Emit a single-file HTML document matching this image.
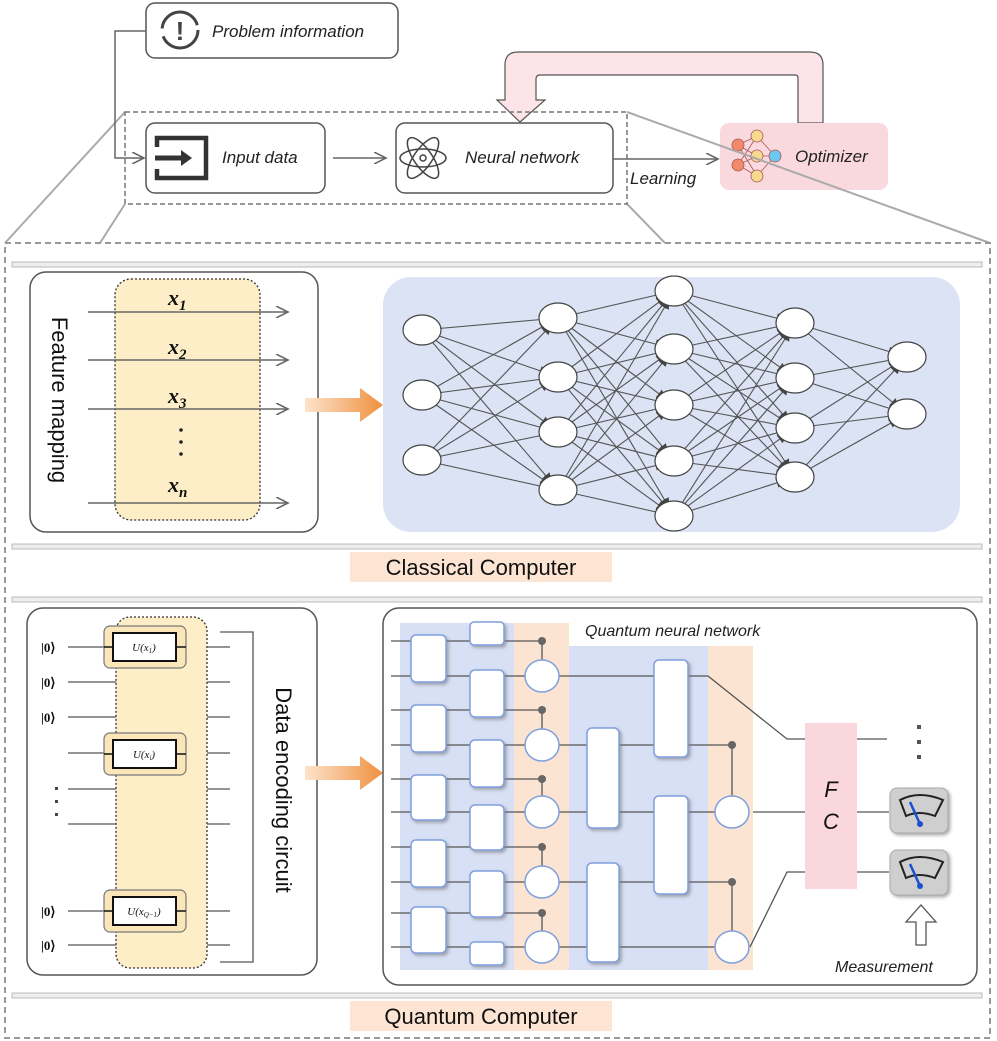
<!DOCTYPE html>
<html><head><meta charset="utf-8"><style>
body{margin:0;background:#fff}
svg{display:block;font-family:"Liberation Sans",sans-serif}
.it{font-style:italic}
</style></head><body>
<svg width="997" height="1041" viewBox="0 0 997 1041" xmlns="http://www.w3.org/2000/svg">
<defs>
<marker id="ah" markerUnits="userSpaceOnUse" markerWidth="14" markerHeight="12" refX="12" refY="6" orient="auto"><path d="M0,0 L12,6 L0,12" fill="none" stroke="#666" stroke-width="1.6"/></marker>
<marker id="nh" markerUnits="userSpaceOnUse" markerWidth="30" markerHeight="10" refX="29" refY="5" orient="auto"><path d="M10,0 L20,5 L10,10 Z" fill="#444"/></marker>
<linearGradient id="og" x1="0" x2="1"><stop offset="0" stop-color="#fde3cc"/><stop offset="1" stop-color="#f0903e"/></linearGradient>
<filter id="sh" x="-20%" y="-20%" width="150%" height="150%"><feDropShadow dx="2" dy="2" stdDeviation="1.5" flood-color="#777" flood-opacity="0.6"/></filter>
</defs>

<g stroke="#aaa" stroke-width="2" fill="none">
<line x1="125" y1="112" x2="5" y2="243"/>
<line x1="125" y1="204" x2="100" y2="243"/>
<line x1="627" y1="204" x2="665" y2="243"/>
</g>

<path d="M798,123 L798,78 Q798,75 795,75 L540,75 Q536,75 536,79 L536,100 L545,100 L520,122 L497,100 L505,100 L505,65 Q505,52 518,52 L810,52 Q823,52 823,65 L823,123 Z" fill="#fde4e8" stroke="#555" stroke-width="1.2"/>

<rect x="146" y="3" width="252" height="55" rx="9" fill="#fff" stroke="#555" stroke-width="1.5"/>
<circle cx="180" cy="30" r="18" fill="none" stroke="#444" stroke-width="3" stroke-dasharray="50 8"/>
<text x="180" y="40" font-size="26" font-weight="bold" text-anchor="middle" fill="#444">!</text>
<text x="212" y="37" font-size="17" class="it" fill="#222">Problem information</text>
<polyline points="146,31 115,31 115,158 144,158" fill="none" stroke="#666" stroke-width="1.5" marker-end="url(#ah)"/>

<rect x="125" y="112" width="502" height="92" fill="none" stroke="#777" stroke-width="1.5" stroke-dasharray="5 3"/>
<rect x="146" y="123" width="179" height="70" rx="9" fill="#fff" stroke="#555" stroke-width="1.5"/>
<path d="M157,147 L157,138 L206,138 L206,178 L157,178 L157,169" fill="none" stroke="#333" stroke-width="4.5"/>
<line x1="155" y1="158" x2="187" y2="158" stroke="#333" stroke-width="5"/>
<path d="M181,150 L192,158 L181,166 Z" fill="#333"/>
<text x="222" y="163" font-size="17" class="it" fill="#222">Input data</text>
<line x1="333" y1="158" x2="386" y2="158" stroke="#666" stroke-width="1.5" marker-end="url(#ah)"/>
<rect x="396" y="123" width="217" height="70" rx="9" fill="#fff" stroke="#555" stroke-width="1.5"/>
<g fill="none" stroke="#444" stroke-width="1.5">
<ellipse cx="423" cy="158" rx="9" ry="24" transform="rotate(-35 423 158)"/>
<ellipse cx="423" cy="158" rx="9" ry="24" transform="rotate(35 423 158)"/>
<ellipse cx="423" cy="158" rx="23" ry="9"/>
<circle cx="423" cy="158" r="3"/>
</g>
<text x="465" y="163" font-size="17" class="it" fill="#222">Neural network</text>
<line x1="613" y1="159" x2="718" y2="159" stroke="#666" stroke-width="1.5" marker-end="url(#ah)"/>
<text x="630" y="184" font-size="17" class="it" fill="#222">Learning</text>
<rect x="720" y="123" width="168" height="67" rx="9" fill="#f9d9de"/>
<g stroke="#a55" stroke-width="0.8" fill="none"><path d="M738,145 L757,136 M738,145 L757,156 M738,165 L757,156 M738,165 L757,176 M738,145 L757,176 M738,165 L757,136 M757,136 L775,156 M757,156 L775,156 M757,176 L775,156"/></g>
<g stroke="#a55" stroke-width="0.8"><circle cx="738" cy="145" r="6" fill="#f08a6a"/><circle cx="738" cy="165" r="6" fill="#f08a6a"/><circle cx="757" cy="136" r="6" fill="#f6d88e"/><circle cx="757" cy="156" r="6" fill="#f6d88e"/><circle cx="757" cy="176" r="6" fill="#f6d88e"/><circle cx="775" cy="156" r="6" fill="#6cc8f0"/></g>
<text x="795" y="162" font-size="17" class="it" fill="#222">Optimizer</text>
<line x1="627" y1="112" x2="990" y2="243" stroke="#aaa" stroke-width="2"/>

<rect x="5" y="243" width="985" height="795" fill="none" stroke="#999" stroke-width="2" stroke-dasharray="6 4"/>

<rect x="12" y="262" width="970" height="5" fill="#eee" stroke="#bbb" stroke-width="1"/>
<rect x="12" y="544" width="970" height="5" fill="#eee" stroke="#bbb" stroke-width="1"/>
<rect x="30" y="272" width="288" height="260" rx="16" fill="#fff" stroke="#555" stroke-width="1.5"/>
<text transform="translate(52,400) rotate(90)" font-size="22" text-anchor="middle" fill="#111">Feature mapping</text>
<rect x="115" y="279" width="145" height="241" rx="16" fill="#fdeec8" stroke="#333" stroke-width="1.3" stroke-dasharray="2 2"/>
<g stroke="#666" stroke-width="1.5">
<line x1="88" y1="312" x2="288" y2="312" marker-end="url(#ah)"/>
<line x1="88" y1="360" x2="288" y2="360" marker-end="url(#ah)"/>
<line x1="88" y1="409" x2="288" y2="409" marker-end="url(#ah)"/>
<line x1="88" y1="503" x2="288" y2="503" marker-end="url(#ah)"/>
</g>
<g font-family="Liberation Serif,serif" font-style="italic" font-weight="bold" font-size="22" fill="#111">
<text x="168" y="305">x<tspan font-size="15" dy="5">1</tspan></text>
<text x="168" y="354">x<tspan font-size="15" dy="5">2</tspan></text>
<text x="168" y="403">x<tspan font-size="15" dy="5">3</tspan></text>
<text x="168" y="492">x<tspan font-size="15" dy="5">n</tspan></text>
</g>
<g fill="#222"><circle cx="181" cy="430" r="1.8"/><circle cx="181" cy="442" r="1.8"/><circle cx="181" cy="454" r="1.8"/></g>
<path d="M305,398 L360,398 L360,388 L383,405 L360,422 L360,412 L305,412 Z" fill="url(#og)"/>
<rect x="383" y="277" width="577" height="255" rx="28" fill="#dbe3f5"/>
<g stroke="#555" stroke-width="1.1" marker-end="url(#nh)">
<line x1="422" y1="330" x2="558" y2="318"/><line x1="422" y1="330" x2="558" y2="377"/><line x1="422" y1="330" x2="558" y2="432"/><line x1="422" y1="330" x2="558" y2="490"/>
<line x1="422" y1="395" x2="558" y2="318"/><line x1="422" y1="395" x2="558" y2="377"/><line x1="422" y1="395" x2="558" y2="432"/><line x1="422" y1="395" x2="558" y2="490"/>
<line x1="422" y1="460" x2="558" y2="318"/><line x1="422" y1="460" x2="558" y2="377"/><line x1="422" y1="460" x2="558" y2="432"/><line x1="422" y1="460" x2="558" y2="490"/>
<line x1="558" y1="318" x2="674" y2="291"/><line x1="558" y1="318" x2="674" y2="349"/><line x1="558" y1="318" x2="674" y2="405"/><line x1="558" y1="318" x2="674" y2="461"/><line x1="558" y1="318" x2="674" y2="516"/>
<line x1="558" y1="377" x2="674" y2="291"/><line x1="558" y1="377" x2="674" y2="349"/><line x1="558" y1="377" x2="674" y2="405"/><line x1="558" y1="377" x2="674" y2="461"/><line x1="558" y1="377" x2="674" y2="516"/>
<line x1="558" y1="432" x2="674" y2="291"/><line x1="558" y1="432" x2="674" y2="349"/><line x1="558" y1="432" x2="674" y2="405"/><line x1="558" y1="432" x2="674" y2="461"/><line x1="558" y1="432" x2="674" y2="516"/>
<line x1="558" y1="490" x2="674" y2="291"/><line x1="558" y1="490" x2="674" y2="349"/><line x1="558" y1="490" x2="674" y2="405"/><line x1="558" y1="490" x2="674" y2="461"/><line x1="558" y1="490" x2="674" y2="516"/>
<line x1="674" y1="291" x2="795" y2="323"/><line x1="674" y1="291" x2="795" y2="378"/><line x1="674" y1="291" x2="795" y2="428"/><line x1="674" y1="291" x2="795" y2="477"/>
<line x1="674" y1="349" x2="795" y2="323"/><line x1="674" y1="349" x2="795" y2="378"/><line x1="674" y1="349" x2="795" y2="428"/><line x1="674" y1="349" x2="795" y2="477"/>
<line x1="674" y1="405" x2="795" y2="323"/><line x1="674" y1="405" x2="795" y2="378"/><line x1="674" y1="405" x2="795" y2="428"/><line x1="674" y1="405" x2="795" y2="477"/>
<line x1="674" y1="461" x2="795" y2="323"/><line x1="674" y1="461" x2="795" y2="378"/><line x1="674" y1="461" x2="795" y2="428"/><line x1="674" y1="461" x2="795" y2="477"/>
<line x1="674" y1="516" x2="795" y2="323"/><line x1="674" y1="516" x2="795" y2="378"/><line x1="674" y1="516" x2="795" y2="428"/><line x1="674" y1="516" x2="795" y2="477"/>
<line x1="795" y1="323" x2="907" y2="357"/><line x1="795" y1="323" x2="907" y2="414"/>
<line x1="795" y1="378" x2="907" y2="357"/><line x1="795" y1="378" x2="907" y2="414"/>
<line x1="795" y1="428" x2="907" y2="357"/><line x1="795" y1="428" x2="907" y2="414"/>
<line x1="795" y1="477" x2="907" y2="357"/><line x1="795" y1="477" x2="907" y2="414"/>
</g>
<g fill="#fff" stroke="#444" stroke-width="1.2">
<ellipse cx="422" cy="330" rx="19" ry="15"/><ellipse cx="422" cy="395" rx="19" ry="15"/><ellipse cx="422" cy="460" rx="19" ry="15"/>
<ellipse cx="558" cy="318" rx="19" ry="15"/><ellipse cx="558" cy="377" rx="19" ry="15"/><ellipse cx="558" cy="432" rx="19" ry="15"/><ellipse cx="558" cy="490" rx="19" ry="15"/>
<ellipse cx="674" cy="291" rx="19" ry="15"/><ellipse cx="674" cy="349" rx="19" ry="15"/><ellipse cx="674" cy="405" rx="19" ry="15"/><ellipse cx="674" cy="461" rx="19" ry="15"/><ellipse cx="674" cy="516" rx="19" ry="15"/>
<ellipse cx="795" cy="323" rx="19" ry="15"/><ellipse cx="795" cy="378" rx="19" ry="15"/><ellipse cx="795" cy="428" rx="19" ry="15"/><ellipse cx="795" cy="477" rx="19" ry="15"/>
<ellipse cx="907" cy="357" rx="19" ry="15"/><ellipse cx="907" cy="414" rx="19" ry="15"/>
</g>
<rect x="350" y="552" width="262" height="30" fill="#fde4d3"/>
<text x="481" y="575" font-size="22" text-anchor="middle" fill="#111">Classical Computer</text>

<rect x="12" y="597" width="970" height="5" fill="#eee" stroke="#bbb" stroke-width="1"/>
<rect x="12" y="993" width="970" height="5" fill="#eee" stroke="#bbb" stroke-width="1"/>
<rect x="27" y="608" width="290" height="367" rx="16" fill="#fff" stroke="#555" stroke-width="1.5"/>
<rect x="116" y="617" width="91" height="351" rx="14" fill="#fdeec8" stroke="#333" stroke-width="1.3" stroke-dasharray="2 2"/>
<g stroke="#555" stroke-width="1.2">
<line x1="68" y1="647" x2="116" y2="647"/><line x1="207" y1="647" x2="230" y2="647"/>
<line x1="68" y1="682" x2="116" y2="682"/><line x1="207" y1="682" x2="230" y2="682"/>
<line x1="68" y1="717" x2="116" y2="717"/><line x1="207" y1="717" x2="230" y2="717"/>
<line x1="68" y1="753" x2="116" y2="753"/><line x1="207" y1="753" x2="230" y2="753"/>
<line x1="68" y1="789" x2="116" y2="789"/><line x1="207" y1="789" x2="230" y2="789"/>
<line x1="68" y1="824" x2="116" y2="824"/><line x1="207" y1="824" x2="230" y2="824"/>
<line x1="68" y1="911" x2="116" y2="911"/><line x1="207" y1="911" x2="230" y2="911"/>
<line x1="68" y1="945" x2="116" y2="945"/><line x1="207" y1="945" x2="230" y2="945"/>
</g>
<g font-family="Liberation Serif,serif" font-weight="bold" font-size="13" fill="#111">
<text x="41" y="652">|0⟩</text><text x="41" y="687">|0⟩</text><text x="41" y="722">|0⟩</text><text x="41" y="916">|0⟩</text><text x="41" y="950">|0⟩</text>
</g>
<g fill="#444"><rect x="55" y="787" width="3" height="3"/><rect x="55" y="800" width="3" height="3"/><rect x="55" y="813" width="3" height="3"/></g>
<g>
<rect x="104" y="626" width="82" height="42" rx="6" fill="#fae6b8" stroke="#777" stroke-width="1.2"/>
<rect x="113" y="633" width="63" height="28" fill="#fff" stroke="#111" stroke-width="2"/>
<line x1="104" y1="647" x2="113" y2="647" stroke="#111" stroke-width="1.5"/><line x1="176" y1="647" x2="186" y2="647" stroke="#111" stroke-width="1.5"/>
<rect x="104" y="733" width="82" height="42" rx="6" fill="#fae6b8" stroke="#777" stroke-width="1.2"/>
<rect x="113" y="740" width="63" height="28" fill="#fff" stroke="#111" stroke-width="2"/>
<line x1="104" y1="754" x2="113" y2="754" stroke="#111" stroke-width="1.5"/><line x1="176" y1="754" x2="186" y2="754" stroke="#111" stroke-width="1.5"/>
<rect x="104" y="890" width="82" height="42" rx="6" fill="#fae6b8" stroke="#777" stroke-width="1.2"/>
<rect x="113" y="897" width="63" height="28" fill="#fff" stroke="#111" stroke-width="2"/>
<line x1="104" y1="911" x2="113" y2="911" stroke="#111" stroke-width="1.5"/><line x1="176" y1="911" x2="186" y2="911" stroke="#111" stroke-width="1.5"/>
</g>
<g font-family="Liberation Serif,serif" font-style="italic" font-size="11" fill="#111" text-anchor="middle">
<text x="144" y="651">U(x<tspan font-size="7" dy="2">1</tspan><tspan dy="-2">)</tspan></text>
<text x="144" y="758">U(x<tspan font-size="7" dy="2">i</tspan><tspan dy="-2">)</tspan></text>
<text x="144" y="915">U(x<tspan font-size="7" dy="2">Q−1</tspan><tspan dy="-2">)</tspan></text>
</g>
<polyline points="220,632 253,632 253,962 220,962" fill="none" stroke="#555" stroke-width="1.3"/>
<text transform="translate(276,790) rotate(90)" font-size="22" text-anchor="middle" fill="#111">Data encoding circuit</text>

<path d="M305,766 L360,766 L360,756 L383,773 L360,790 L360,780 L305,780 Z" fill="url(#og)"/>

<rect x="383" y="608" width="594" height="377" rx="16" fill="#fff" stroke="#555" stroke-width="1.5"/>
<rect x="400" y="623" width="114" height="347" fill="#d7e0f4"/>
<rect x="514" y="623" width="55" height="347" fill="#fce4d2"/>
<rect x="569" y="646" width="139" height="324" fill="#d7e0f4"/>
<rect x="708" y="646" width="45" height="324" fill="#fce4d2"/>
<text x="585" y="636" font-size="16" class="it" fill="#222">Quantum neural network</text>

<g stroke="#555" stroke-width="1.3" fill="none">
<line x1="391" y1="641" x2="542" y2="641"/>
<line x1="391" y1="676" x2="708" y2="676"/>
<line x1="391" y1="710" x2="542" y2="710"/>
<line x1="391" y1="745" x2="732" y2="745"/>
<line x1="391" y1="779" x2="542" y2="779"/>
<line x1="391" y1="812" x2="732" y2="812"/>
<line x1="391" y1="847" x2="542" y2="847"/>
<line x1="391" y1="882" x2="732" y2="882"/>
<line x1="391" y1="913" x2="542" y2="913"/>
<line x1="391" y1="947" x2="732" y2="947"/>
<line x1="542" y1="641" x2="542" y2="676"/><line x1="542" y1="710" x2="542" y2="745"/><line x1="542" y1="779" x2="542" y2="812"/><line x1="542" y1="847" x2="542" y2="882"/><line x1="542" y1="913" x2="542" y2="947"/>
<line x1="732" y1="745" x2="732" y2="812"/><line x1="732" y1="882" x2="732" y2="947"/>
<polyline points="708,676 787,739 805,739"/>
<line x1="753" y1="812" x2="805" y2="812"/>
<polyline points="750,947 787,872 805,872"/>
<line x1="857" y1="739" x2="887" y2="739"/>
<line x1="857" y1="812" x2="889" y2="812"/>
<line x1="857" y1="872" x2="889" y2="872"/>
</g>
<g fill="#fff" stroke="#7f9fdd" stroke-width="1.5" filter="url(#sh)">
<rect x="411" y="635" width="35" height="47" rx="5"/><rect x="411" y="705" width="35" height="47" rx="5"/><rect x="411" y="775" width="35" height="45" rx="5"/><rect x="411" y="840" width="35" height="47" rx="5"/><rect x="411" y="907" width="35" height="46" rx="5"/>
<rect x="470" y="622" width="34" height="23" rx="4"/><rect x="470" y="670" width="34" height="47" rx="5"/><rect x="470" y="740" width="34" height="47" rx="5"/><rect x="470" y="805" width="34" height="45" rx="5"/><rect x="470" y="871" width="34" height="46" rx="5"/><rect x="470" y="942" width="34" height="23" rx="4"/>
<rect x="587" y="728" width="32" height="100" rx="5"/><rect x="587" y="863" width="32" height="99" rx="5"/>
<rect x="654" y="660" width="34" height="97" rx="5"/><rect x="654" y="796" width="34" height="98" rx="5"/>
</g>
<g fill="#fff" stroke="#7f9fdd" stroke-width="1.5">
<ellipse cx="542" cy="676" rx="17" ry="16"/><ellipse cx="542" cy="745" rx="17" ry="16"/><ellipse cx="542" cy="812" rx="17" ry="16"/><ellipse cx="542" cy="882" rx="17" ry="16"/><ellipse cx="542" cy="947" rx="17" ry="16"/>
<ellipse cx="732" cy="812" rx="17" ry="16"/><ellipse cx="732" cy="947" rx="17" ry="16"/>
</g>
<g fill="#666"><circle cx="542" cy="641" r="4"/><circle cx="542" cy="710" r="4"/><circle cx="542" cy="779" r="4"/><circle cx="542" cy="847" r="4"/><circle cx="542" cy="913" r="4"/><circle cx="732" cy="745" r="4"/><circle cx="732" cy="882" r="4"/></g>
<rect x="805" y="723" width="52" height="166" fill="#fad7dd"/>
<text x="831" y="797" font-size="22" class="it" text-anchor="middle" fill="#111">F</text>
<text x="831" y="829" font-size="22" class="it" text-anchor="middle" fill="#111">C</text>
<g fill="#555"><rect x="917" y="725" width="4" height="4"/><rect x="917" y="740" width="4" height="4"/><rect x="917" y="755" width="4" height="4"/></g>
<g filter="url(#sh)"><rect x="890" y="788" width="58" height="45" rx="7" fill="#cfcfcf" stroke="#aaa"/><rect x="890" y="850" width="58" height="45" rx="7" fill="#cfcfcf" stroke="#aaa"/></g>
<g fill="none" stroke="#222" stroke-width="2">
<path d="M900,800 Q919,790 943,800 L935,816 Q919,810 906,816 Z"/>
<path d="M900,862 Q919,852 943,862 L935,878 Q919,872 906,878 Z"/>
</g>
<g stroke="#1a4fd0" stroke-width="2.5"><line x1="910" y1="802" x2="920" y2="824"/><line x1="910" y1="864" x2="920" y2="886"/></g>
<g fill="#1a4fd0"><circle cx="920" cy="824" r="3"/><circle cx="920" cy="886" r="3"/></g>
<path d="M916,945 L926,945 L926,922 L936,922 L921,905 L906,922 L916,922 Z" fill="#fff" stroke="#555" stroke-width="1.3"/>
<text x="835" y="972" font-size="16" class="it" fill="#222">Measurement</text>

<rect x="350" y="1001" width="262" height="30" fill="#fde4d3"/>
<text x="481" y="1024" font-size="22" text-anchor="middle" fill="#111">Quantum Computer</text>
</svg>
</body></html>
